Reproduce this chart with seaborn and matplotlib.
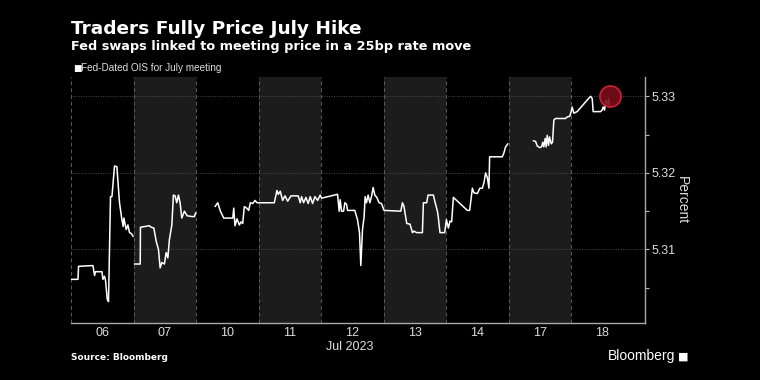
import numpy as np
import pandas as pd
import matplotlib
matplotlib.use("Agg")
import matplotlib.pyplot as plt
import seaborn as sns

# trading days shown on the compressed x axis (one slot per day)
days = ["06", "07", "10", "11", "12", "13", "14", "17", "18"]
shaded = ["07", "11", "13", "17"]

# position = day slot + fraction of the session, nan = break in the line
pos = [
    0.005, 0.112, 0.121, 0.351, 0.377, 0.393, 0.495, 0.511, 0.536, 0.552, 0.580, 0.600,
    0.632, 0.655, 0.696, 0.734, 0.776, 0.814, 0.835, 0.846, 0.883, 0.910, 0.936, 0.963, 0.995,
    np.nan,
    1.015, 1.107, 1.111, 1.255, 1.282, 1.325, 1.362, 1.399, 1.426, 1.453, 1.494, 1.522, 1.549,
    1.574, 1.613, 1.638, 1.665, 1.692, 1.718, 1.745, 1.772, 1.814, 1.857, 1.932, 1.974, 1.995,
    np.nan,
    2.304, 2.347, 2.389, 2.443, 2.587, 2.603, 2.623, 2.655, 2.692, 2.719, 2.746, 2.772, 2.810,
    2.842, 2.868, 2.906, 2.943, 2.975,
    3.251, 3.294, 3.315, 3.347, 3.385, 3.422, 3.465, 3.518, 3.634, 3.666, 3.688, 3.720, 3.757,
    3.794, 3.826, 3.864, 3.901, 3.944, 3.985, 4.008,
    4.263, 4.289, 4.305, 4.327, 4.359, 4.380, 4.407, 4.423, 4.539, 4.582, 4.614, 4.635, 4.662,
    4.688, 4.704, 4.726, 4.752, 4.779, 4.806, 4.832, 4.859, 4.891, 4.927, 4.966,
    5.007, 5.274, 5.301, 5.326, 5.369, 5.422, 5.461, 5.486, 5.525, 5.620, 5.636, 5.689, 5.710,
    5.796, 5.821, 5.860, 5.876, 5.901, 5.976,
    6.004, 6.036, 6.061, 6.088, 6.115, 6.339, 6.376, 6.419, 6.444, 6.498, 6.540, 6.578, 6.604,
    6.631, 6.658, 6.684, 6.695, 6.898, 6.923, 6.950, 6.987,
    np.nan,
    7.393, 7.430, 7.457, 7.498, 7.525, 7.546, 7.562, 7.584, 7.600, 7.616, 7.637, 7.653, 7.680,
    7.701, 7.722, 7.749, 7.908, 7.935, 7.977, 7.999, 8.015,
    8.041, 8.095, 8.255, 8.309, 8.336, 8.351, 8.468, 8.495, 8.511, 8.533, 8.554, 8.584, 8.600, 8.616,
]
rate = [
    5.3061, 5.3061, 5.3078, 5.3079, 5.3066, 5.3071, 5.3071, 5.3061, 5.3065, 5.3060, 5.3035, 5.3032,
    5.3169, 5.3169, 5.3209, 5.3208, 5.3161, 5.3139, 5.3130, 5.3141, 5.3126, 5.3132, 5.3122, 5.3121, 5.3117,
    np.nan,
    5.3081, 5.3081, 5.3129, 5.3131, 5.3129, 5.3128, 5.3111, 5.3100, 5.3076, 5.3083, 5.3081, 5.3096, 5.3089,
    5.3113, 5.3132, 5.3171, 5.3170, 5.3161, 5.3171, 5.3161, 5.3141, 5.3150, 5.3144, 5.3143, 5.3143, 5.3148,
    np.nan,
    5.3156, 5.3161, 5.3150, 5.3141, 5.3141, 5.3154, 5.3131, 5.3140, 5.3132, 5.3136, 5.3134, 5.3156, 5.3154,
    5.3151, 5.3161, 5.3160, 5.3164, 5.3161,
    5.3161, 5.3177, 5.3172, 5.3176, 5.3164, 5.3170, 5.3163, 5.3170, 5.3170, 5.3161, 5.3169, 5.3161, 5.3168,
    5.3160, 5.3169, 5.3160, 5.3169, 5.3164, 5.3171, 5.3167,
    5.3172, 5.3150, 5.3165, 5.3150, 5.3150, 5.3161, 5.3159, 5.3151, 5.3151, 5.3139, 5.3122, 5.3079, 5.3126,
    5.3143, 5.3169, 5.3161, 5.3171, 5.3161, 5.3169, 5.3181, 5.3171, 5.3168, 5.3161, 5.3160,
    5.3151, 5.3150, 5.3161, 5.3156, 5.3134, 5.3133, 5.3122, 5.3124, 5.3122, 5.3122, 5.3161, 5.3161, 5.3171,
    5.3171, 5.3162, 5.3150, 5.3141, 5.3122, 5.3122,
    5.3139, 5.3128, 5.3137, 5.3136, 5.3168, 5.3151, 5.3151, 5.3180, 5.3174, 5.3173, 5.3180, 5.3180, 5.3187,
    5.3200, 5.3194, 5.3180, 5.3221, 5.3221, 5.3226, 5.3234, 5.3238,
    np.nan,
    5.3242, 5.3241, 5.3235, 5.3233, 5.3234, 5.3240, 5.3234, 5.3245, 5.3234, 5.3249, 5.3236, 5.3247, 5.3238,
    5.3240, 5.3269, 5.3271, 5.3271, 5.3273, 5.3274, 5.3280, 5.3286,
    5.3278, 5.3280, 5.3295, 5.3300, 5.3297, 5.3280, 5.3280, 5.3282, 5.3286, 5.3282, 5.3295, 5.3290, 5.3297, 5.3287,
]

df = pd.DataFrame({"pos": pos, "rate": rate})
df["seg"] = df["rate"].isna().cumsum()
df = df.dropna()

sns.set_style("dark")
plt.rcParams["font.family"] = ["DejaVu Sans"]
narrow = "Liberation Sans"

fig = plt.figure(figsize=(7.6, 3.8), dpi=100, facecolor="black")
ax = fig.add_axes([0.0934, 0.15, 0.7553, 0.647])
ax.set_facecolor("black")

# alternate day shading + dashed day boundaries
for i, d in enumerate(days):
    if d in shaded:
        ax.axvspan(i, i + 1, color="#1c1c1c", zorder=0, lw=0)
    ax.axvline(i, color="#5a5a5a", lw=0.7, ls=(0, (4, 3)), zorder=1)

for v in [5.31, 5.32, 5.33]:
    ax.axhline(v, color="#4a4a4a", lw=0.7, ls=(0, (1, 1.5)), zorder=1)

sns.lineplot(data=df, x="pos", y="rate", units="seg", estimator=None,
             color="white", lw=1.1, ax=ax, zorder=3)

# highlight latest level
ax.scatter(df["pos"].iloc[-1], df["rate"].max(), s=230, color="#7a0c18",
           edgecolor="#d4233b", linewidth=1.3, alpha=0.9, zorder=4)

ax.set_xlim(0, 9.18)
ax.set_ylim(5.3004, 5.3325)
ax.set_xticks(np.arange(len(days)) + 0.5)
ax.set_xticklabels(days)
ax.set_xlabel("")
ax.yaxis.tick_right()
ax.yaxis.set_label_position("right")
ax.set_yticks([5.31, 5.32, 5.33])
ax.set_yticks([5.305, 5.315, 5.325], minor=True)
ax.set_yticklabels(["5.31", "5.32", "5.33"])
ax.set_ylabel("Percent", rotation=270, labelpad=9, color="#dddddd",
              fontsize=10, family=narrow)
ax.tick_params(axis="x", length=0, pad=3, colors="#dddddd", labelsize=9)
ax.tick_params(axis="y", which="both", direction="out", length=3, width=0.8,
               color="#bbbbbb", pad=2, colors="#dddddd", labelsize=9)
ax.tick_params(axis="y", which="minor", length=3, color="#bbbbbb")
for lab in ax.get_xticklabels() + ax.get_yticklabels():
    lab.set_family(narrow)
ax.grid(False)
for s in ["top", "left"]:
    ax.spines[s].set_visible(False)
for s in ["right", "bottom"]:
    ax.spines[s].set_visible(True)
    ax.spines[s].set_color("#aaaaaa")
    ax.spines[s].set_linewidth(1.0)

fig.text(0.0934, 0.925, "Traders Fully Price July Hike", color="white",
         fontsize=13.3, fontweight="bold", va="center")
fig.text(0.0934, 0.877, "Fed swaps linked to meeting price in a 25bp rate move", color="white",
         fontsize=9.3, fontweight="bold", va="center")
fig.text(0.096, 0.821, "\u25a0", color="white", fontsize=6.5, va="center")
fig.text(0.107, 0.821, "Fed-Dated OIS for July meeting", color="#dddddd", fontsize=7.2,
         va="center", family=narrow)
fig.text(0.4605, 0.088, "Jul 2023", color="#dddddd", fontsize=9, ha="center",
         va="center", family=narrow)
fig.text(0.0934, 0.058, "Source: Bloomberg", color="white", fontsize=6.5, fontweight="bold",
         va="center")
fig.text(0.889, 0.062, "Bloomberg", color="white", fontsize=10, ha="right", va="center",
         family=narrow)
fig.text(0.892, 0.062, "\u25a0", color="white", fontsize=8, ha="left", va="center")

fig.savefig("out.png", dpi=100, facecolor="black")
